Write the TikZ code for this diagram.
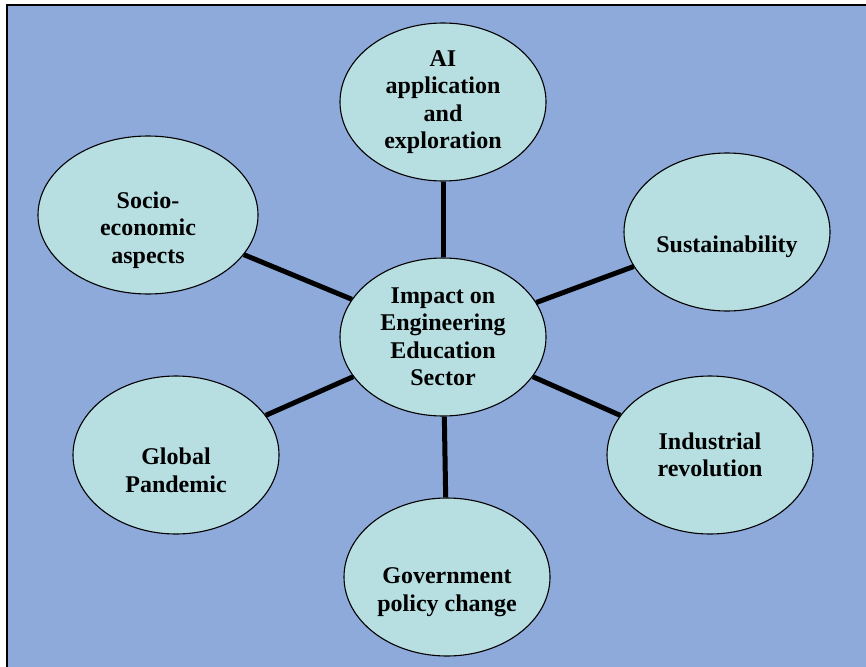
\documentclass[tikz,border=0pt]{standalone}
\usepackage{fontspec}
\setmainfont{Liberation Serif}
\usetikzlibrary{shapes.geometric}

\definecolor{panel}{HTML}{8EAADB}
\definecolor{bubblefill}{HTML}{B7DFE2}

\begin{document}
\begin{tikzpicture}[x=1pt,y=-1pt,
  bubble/.style={ellipse,draw=black,line width=1.1pt,fill=bubblefill,
    minimum width=206pt,minimum height=158pt,inner sep=0pt,align=center,
    font=\fontsize{24}{27.5}\selectfont\bfseries},
  spoke/.style={line width=5pt}]
\useasboundingbox (0,0) rectangle (866,666);
\clip (0,0) rectangle (866,666);
\fill[white] (0,0) rectangle (866,666);
\filldraw[fill=panel,draw=black,line width=2pt] (7,5) rectangle (880,680);

% hub and the six factors round it
\node[bubble] (hub) at (443,337) {Impact on\\Engineering\\Education\\Sector};
\node[bubble] (ai) at (443,102) {AI\\application\\and\\exploration};
\node[bubble,minimum width=220pt] (socio) at (148,215) {\strut\\Socio-\\economic\\aspects};
\node[bubble] (sus) at (727,232) {\strut\\Sustainability};
\node[bubble] (global) at (176,455) {\strut\\Global\\Pandemic};
\node[bubble] (ind) at (710,455) {Industrial\\revolution};
\node[bubble] (gov) at (447,577) {\strut\\Government\\policy change};

\foreach \n in {ai,sus,ind,gov,global,socio}
  \draw[spoke] (hub) -- (\n);
\end{tikzpicture}
\end{document}
